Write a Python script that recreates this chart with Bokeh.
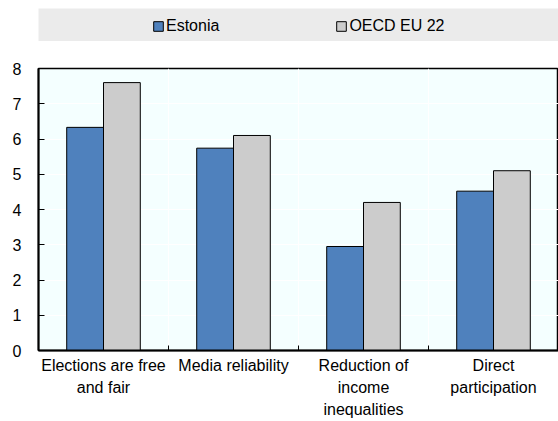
import numpy as np
from bokeh.plotting import figure
from bokeh.layouts import column
from bokeh.models import (ColumnDataSource, FixedTicker, Legend, LegendItem, Range1d)
from bokeh.embed import file_html
from bokeh.resources import INLINE

categories = ["Elections are free\nand fair", "Media reliability",
              "Reduction of\nincome\ninequalities", "Direct\nparticipation"]
series_names = ["Estonia", "OECD EU 22"]
estonia = [6.33, 5.74, 2.95, 4.52]
oecd = [7.60, 6.10, 4.20, 5.10]
y_ticks = [0, 1, 2, 3, 4, 5, 6, 7, 8]

BLUE = "#4F81BD"
GREY = "#CCCCCC"
FONT = "Liberation Sans"
FS = "16px"

n = len(categories)
centers = np.arange(n) + 0.5
bw = 0.283

src = ColumnDataSource(dict(
    x1=centers - bw / 2, x2=centers + bw / 2, est=estonia, oecd=oecd))

p = figure(width=558, height=380, output_backend="svg", toolbar_location=None,
           x_range=Range1d(0, n), y_range=Range1d(0, 8),
           min_border_left=38, min_border_right=0, min_border_top=27,
           min_border_bottom=71)
p.background_fill_color = "#F4FFFF"
p.border_fill_color = "white"
p.outline_line_color = "black"
p.outline_line_width = 1.5

p.vbar(x="x1", top="est", width=bw, source=src, fill_color=BLUE, line_color="black", line_width=1)
p.vbar(x="x2", top="oecd", width=bw, source=src, fill_color=GREY, line_color="black", line_width=1)

# axes
xa = p.xaxis[0]
xa.ticker = FixedTicker(ticks=list(centers), minor_ticks=list(np.arange(1, n)))
xa.major_label_overrides = {float(c): lab for c, lab in zip(centers, categories)}
xa.major_tick_in = 0
xa.major_tick_out = 0
xa.minor_tick_in = 5
xa.minor_tick_out = 0
xa.minor_tick_line_color = "black"
xa.axis_line_color = "black"
xa.axis_line_width = 2
xa.major_label_text_font = FONT
xa.major_label_text_font_size = FS
xa.major_label_text_color = "black"
xa.major_label_text_line_height = 1.3
xa.major_label_standoff = 6

ya = p.yaxis[0]
ya.ticker = FixedTicker(ticks=y_ticks)
ya.major_tick_in = 6
ya.major_tick_out = 0
ya.minor_tick_line_color = None
ya.axis_line_color = "black"
ya.axis_line_width = 2
ya.major_tick_line_color = "black"
ya.major_label_text_font = FONT
ya.major_label_text_font_size = FS
ya.major_label_text_color = "black"
ya.major_label_standoff = 17

p.ygrid.grid_line_color = "white"
p.ygrid.grid_line_width = 1
p.xgrid.ticker = FixedTicker(ticks=list(np.arange(1, n)))
p.xgrid.grid_line_color = "white"
p.xgrid.grid_line_width = 1

# legend band (its renderers reuse the data but fall outside this band's range)
lf = figure(width=558, height=41, output_backend="svg", toolbar_location=None,
            x_range=Range1d(100, 101), y_range=Range1d(100, 101),
            min_border_left=37, min_border_right=0, min_border_top=8, min_border_bottom=0,
            x_axis_location=None, y_axis_location=None)
lf.background_fill_color = "#EBEBEB"
lf.border_fill_color = "white"
lf.outline_line_color = None
lf.xgrid.visible = False
lf.ygrid.visible = False
r1 = lf.vbar(x="x1", top="est", width=bw, source=src, fill_color=BLUE, line_color="black")
r2 = lf.vbar(x="x2", top="oecd", width=bw, source=src, fill_color=GREY, line_color="black")
leg = Legend(items=[LegendItem(label=series_names[0], renderers=[r1], index=0),
                    LegendItem(label=series_names[1], renderers=[r2], index=0)],
             orientation="horizontal", location=(114, 6), margin=0, padding=0,
             spacing=116, glyph_width=12, glyph_height=12, label_height=12,
             label_standoff=2,
             label_text_font=FONT, label_text_font_size=FS, label_text_color="black",
             background_fill_alpha=0, border_line_color=None)
lf.add_layout(leg, "center")

layout = column(lf, p, spacing=0)
open("out.html", "w").write(file_html(layout, INLINE))
